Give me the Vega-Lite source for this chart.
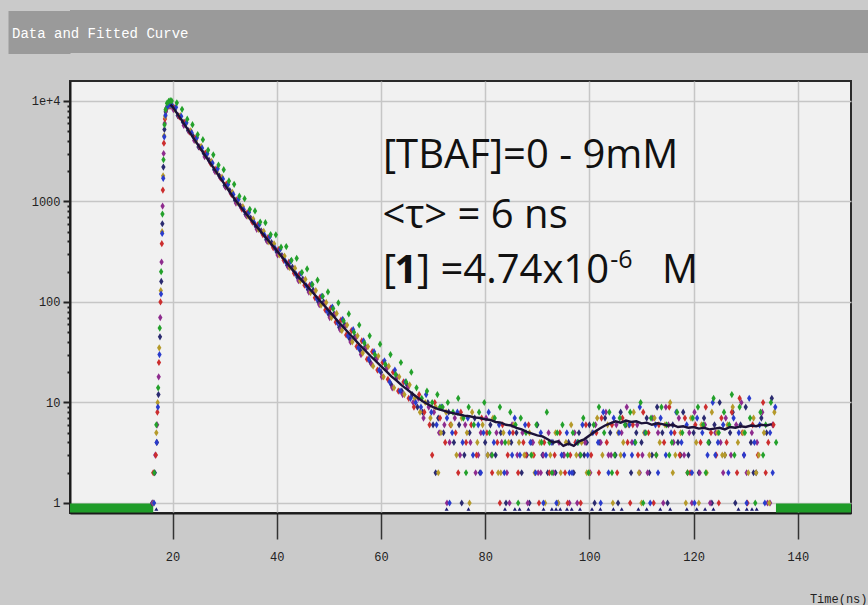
{
"$schema": "https://vega.github.io/schema/vega-lite/v6.json",
"background": "#cacaca",
"padding": {"top": 10, "left": -14, "right": 0, "bottom": 0},
"spacing": 26,
"config": {"view": {"stroke": null}},
"datasets": {
"N": [{"t":16.1,"c":1},{"t":16.6,"c":2},{"t":17,"c":4},{"t":17.3,"c":12},{"t":17.6,"c":45},{"t":17.85,"c":160},{"t":18.05,"c":600},{"t":18.25,"c":2200},{"t":18.45,"c":5200},{"t":18.7,"c":7800},{"t":19,"c":8800},{"t":19.3,"c":9100},{"t":19.6,"c":9200},
{"t":20,"c":8880},{"t":21,"c":7150},{"t":22,"c":6170},{"t":23,"c":5080},{"t":24,"c":4430},{"t":25,"c":3490},{"t":26,"c":3013},{"t":27,"c":2580},{"t":28,"c":2070},{"t":29,"c":1790},{"t":30,"c":1440},{"t":31,"c":1280},{"t":32,"c":1030},{"t":33,"c":905},{"t":34,"c":745},{"t":35,"c":685},{"t":36,"c":565},{"t":37,"c":510},{"t":38,"c":415},{"t":39,"c":390},{"t":40,"c":315},{"t":41,"c":290},{"t":42,"c":232},{"t":43,"c":222},{"t":44,"c":175},{"t":45,"c":169},{"t":46,"c":133},{"t":47,"c":131},{"t":48,"c":100},{"t":49,"c":100},{"t":50,"c":75},{"t":51,"c":76},{"t":52,"c":56},{"t":53,"c":60},{"t":54,"c":43},{"t":55,"c":45},{"t":56,"c":33},{"t":57,"c":36},{"t":58,"c":25},{"t":59,"c":28},{"t":60,"c":20},{"t":61,"c":23},{"t":62,"c":15},{"t":63,"c":18},{"t":64,"c":13},{"t":65,"c":15},
{"t":66,"c":12},{"t":67,"c":9},{"t":68,"c":8},{"t":69,"c":10},{"t":70,"c":6},{"t":71,"c":7},{"t":72,"c":5},{"t":73,"c":8},{"t":74,"c":4},{"t":75,"c":6},
{"t":76,"c":3},{"t":77,"c":5},{"t":78,"c":7},{"t":79,"c":2},{"t":80,"c":4},{"t":81,"c":6},{"t":82,"c":3},{"t":83,"c":5},{"t":84,"c":1},{"t":85,"c":4},
{"t":86,"c":5},{"t":87,"c":2},{"t":88,"c":3},{"t":89,"c":4},{"t":90,"c":6},{"t":91,"c":3},{"t":92,"c":2},{"t":93,"c":4},{"t":94,"c":1},{"t":95,"c":3},
{"t":96,"c":4},{"t":97,"c":2},{"t":98,"c":5},{"t":99,"c":3},{"t":100,"c":6},{"t":101,"c":1},{"t":102,"c":4},{"t":103,"c":7},{"t":104,"c":5},{"t":105,"c":3},
{"t":106,"c":8},{"t":107,"c":6},{"t":108,"c":2},{"t":109,"c":5},{"t":110,"c":4},{"t":111,"c":7},{"t":112,"c":3},{"t":113,"c":9},{"t":114,"c":5},{"t":115,"c":1},
{"t":116,"c":6},{"t":117,"c":4},{"t":118,"c":8},{"t":119,"c":3},{"t":120,"c":5},{"t":121,"c":2},{"t":122,"c":7},{"t":123,"c":4},{"t":124,"c":6},{"t":125,"c":10},
{"t":126,"c":3},{"t":127,"c":5},{"t":128,"c":1},{"t":129,"c":6},{"t":130,"c":9},{"t":131,"c":4},{"t":132,"c":2},{"t":133,"c":7},{"t":134,"c":5},{"t":135,"c":11},
{"t":70.5,"c":2},{"t":75.5,"c":1},{"t":80.5,"c":3},{"t":88.5,"c":1},{"t":93.5,"c":2},{"t":99.5,"c":4},{"t":105.5,"c":1},{"t":111.5,"c":2},{"t":117.5,"c":3},{"t":123.5,"c":1},{"t":127.5,"c":8},{"t":131.5,"c":2}],
"P": [{"t":16.2,"c":1},{"t":16.7,"c":3},{"t":17.05,"c":6},{"t":17.35,"c":18},{"t":17.65,"c":70},{"t":17.9,"c":250},{"t":18.1,"c":900},{"t":18.3,"c":3000},{"t":18.5,"c":6000},{"t":18.75,"c":8000},{"t":19.05,"c":8700},{"t":19.35,"c":8900},{"t":19.65,"c":8900},
{"t":20.17,"c":8220},{"t":21.17,"c":7090},{"t":22.17,"c":5710},{"t":23.17,"c":4980},{"t":24.17,"c":4050},{"t":25.17,"c":3500},{"t":26.17,"c":2790},{"t":27.17,"c":2480},{"t":28.17,"c":1975},{"t":29.17,"c":1725},{"t":30.17,"c":1390},{"t":31.17,"c":1210},{"t":32.17,"c":965},{"t":33.17,"c":873},{"t":34.17,"c":720},{"t":35.17,"c":655},{"t":36.17,"c":528},{"t":37.17,"c":495},{"t":38.17,"c":400},{"t":39.17,"c":368},{"t":40.17,"c":294},{"t":41.17,"c":281},{"t":42.17,"c":223},{"t":43.17,"c":209},{"t":44.17,"c":163},{"t":45.17,"c":164},{"t":46.17,"c":125},{"t":47.17,"c":125},{"t":48.17,"c":94},{"t":49.17,"c":96},{"t":50.17,"c":70},{"t":51.17,"c":75},{"t":52.17,"c":53},{"t":53.17,"c":57},{"t":54.17,"c":40},{"t":55.17,"c":44},{"t":56.17,"c":30},{"t":57.17,"c":35},{"t":58.17,"c":24},{"t":59.17,"c":27},{"t":60.17,"c":18},{"t":61.17,"c":22},{"t":62.17,"c":14},{"t":63.17,"c":18},{"t":64.17,"c":12},{"t":65.17,"c":14},
{"t":66.17,"c":10},{"t":67.17,"c":11},{"t":68.17,"c":7},{"t":69.17,"c":9},{"t":70.17,"c":8},{"t":71.17,"c":5},{"t":72.17,"c":6},{"t":73.17,"c":4},{"t":74.17,"c":7},{"t":75.17,"c":3},
{"t":76.17,"c":6},{"t":77.17,"c":4},{"t":78.17,"c":2},{"t":79.17,"c":5},{"t":80.17,"c":7},{"t":81.17,"c":3},{"t":82.17,"c":5},{"t":83.17,"c":4},{"t":84.17,"c":2},{"t":85.17,"c":6},
{"t":86.17,"c":3},{"t":87.17,"c":5},{"t":88.17,"c":1},{"t":89.17,"c":4},{"t":90.17,"c":2},{"t":91.17,"c":3},{"t":92.17,"c":5},{"t":93.17,"c":2},{"t":94.17,"c":4},{"t":95.17,"c":3},
{"t":96.17,"c":1},{"t":97.17,"c":5},{"t":98.17,"c":3},{"t":99.17,"c":4},{"t":100.17,"c":2},{"t":101.17,"c":6},{"t":102.17,"c":4},{"t":103.17,"c":8},{"t":104.17,"c":3},{"t":105.17,"c":6},
{"t":106.17,"c":5},{"t":107.17,"c":9},{"t":108.17,"c":4},{"t":109.17,"c":6},{"t":110.17,"c":3},{"t":111.17,"c":2},{"t":112.17,"c":7},{"t":113.17,"c":5},{"t":114.17,"c":1},{"t":115.17,"c":6},
{"t":116.17,"c":4},{"t":117.17,"c":7},{"t":118.17,"c":3},{"t":119.17,"c":5},{"t":120.17,"c":8},{"t":121.17,"c":2},{"t":122.17,"c":6},{"t":123.17,"c":1},{"t":124.17,"c":5},{"t":125.17,"c":4},
{"t":126.17,"c":7},{"t":127.17,"c":3},{"t":128.17,"c":6},{"t":129.17,"c":10},{"t":130.17,"c":2},{"t":131.17,"c":5},{"t":132.17,"c":4},{"t":133.17,"c":8},{"t":134.17,"c":1},{"t":135.17,"c":6},
{"t":72.67,"c":1},{"t":78.67,"c":3},{"t":84.67,"c":1},{"t":90.67,"c":2},{"t":97.67,"c":1},{"t":103.67,"c":3},{"t":109.67,"c":2},{"t":114.67,"c":9},{"t":119.67,"c":1},{"t":125.67,"c":2},{"t":129.67,"c":3},{"t":134.67,"c":1}],
"R": [{"t":16.3,"c":2},{"t":16.8,"c":3},{"t":17.1,"c":8},{"t":17.4,"c":25},{"t":17.7,"c":100},{"t":17.95,"c":380},{"t":18.15,"c":1300},{"t":18.35,"c":3800},{"t":18.55,"c":6600},{"t":18.8,"c":8300},{"t":19.1,"c":8900},{"t":19.4,"c":9000},{"t":19.7,"c":9000},
{"t":20.33,"c":8560},{"t":21.33,"c":6960},{"t":22.33,"c":6130},{"t":23.33,"c":4890},{"t":24.33,"c":4270},{"t":25.33,"c":3440},{"t":26.33,"c":3020},{"t":27.33,"c":2385},{"t":28.33,"c":2100},{"t":29.33,"c":1695},{"t":30.33,"c":1490},{"t":31.33,"c":1175},{"t":32.33,"c":1035},{"t":33.33,"c":840},{"t":34.33,"c":772},{"t":35.33,"c":623},{"t":36.33,"c":584},{"t":37.33,"c":467},{"t":38.33,"c":438},{"t":39.33,"c":347},{"t":40.33,"c":332},{"t":41.33,"c":260},{"t":42.33,"c":249},{"t":43.33,"c":193},{"t":44.33,"c":188},{"t":45.33,"c":147},{"t":46.33,"c":147},{"t":47.33,"c":110},{"t":48.33,"c":112},{"t":49.33,"c":83},{"t":50.33,"c":87},{"t":51.33,"c":63},{"t":52.33,"c":66},{"t":53.33,"c":47},{"t":54.33,"c":52},{"t":55.33,"c":36},{"t":56.33,"c":41},{"t":57.33,"c":27},{"t":58.33,"c":32},{"t":59.33,"c":21},{"t":60.33,"c":25},{"t":61.33,"c":17},{"t":62.33,"c":20},{"t":63.33,"c":13},{"t":64.33,"c":16},{"t":65.33,"c":11},
{"t":66.33,"c":9},{"t":67.33,"c":12},{"t":68.33,"c":8},{"t":69.33,"c":6},{"t":70.33,"c":10},{"t":71.33,"c":7},{"t":72.33,"c":4},{"t":73.33,"c":6},{"t":74.33,"c":5},{"t":75.33,"c":8},
{"t":76.33,"c":4},{"t":77.33,"c":6},{"t":78.33,"c":3},{"t":79.33,"c":7},{"t":80.33,"c":5},{"t":81.33,"c":2},{"t":82.33,"c":4},{"t":83.33,"c":6},{"t":84.33,"c":3},{"t":85.33,"c":5},
{"t":86.33,"c":2},{"t":87.33,"c":4},{"t":88.33,"c":6},{"t":89.33,"c":3},{"t":90.33,"c":1},{"t":91.33,"c":4},{"t":92.33,"c":2},{"t":93.33,"c":3},{"t":94.33,"c":5},{"t":95.33,"c":2},
{"t":96.33,"c":3},{"t":97.33,"c":4},{"t":98.33,"c":1},{"t":99.33,"c":6},{"t":100.33,"c":3},{"t":101.33,"c":5},{"t":102.33,"c":7},{"t":103.33,"c":4},{"t":104.33,"c":6},{"t":105.33,"c":2},
{"t":106.33,"c":7},{"t":107.33,"c":4},{"t":108.33,"c":6},{"t":109.33,"c":3},{"t":110.33,"c":8},{"t":111.33,"c":5},{"t":112.33,"c":1},{"t":113.33,"c":6},{"t":114.33,"c":4},{"t":115.33,"c":9},
{"t":116.33,"c":5},{"t":117.33,"c":3},{"t":118.33,"c":7},{"t":119.33,"c":2},{"t":120.33,"c":6},{"t":121.33,"c":4},{"t":122.33,"c":9},{"t":123.33,"c":5},{"t":124.33,"c":3},{"t":125.33,"c":7},
{"t":126.33,"c":4},{"t":127.33,"c":8},{"t":128.33,"c":2},{"t":129.33,"c":5},{"t":130.33,"c":1},{"t":131.33,"c":6},{"t":132.33,"c":3},{"t":133.33,"c":10},{"t":134.33,"c":4},{"t":135.33,"c":6},
{"t":69.83,"c":3},{"t":74.83,"c":2},{"t":82.83,"c":1},{"t":87.83,"c":3},{"t":95.83,"c":1},{"t":101.83,"c":2},{"t":107.83,"c":1},{"t":112.83,"c":3},{"t":118.83,"c":2},{"t":124.83,"c":1},{"t":128.83,"c":11},{"t":133.83,"c":2}],
"Y": [{"t":16.4,"c":1},{"t":16.9,"c":5},{"t":17.15,"c":10},{"t":17.45,"c":35},{"t":17.75,"c":130},{"t":18,"c":500},{"t":18.2,"c":1800},{"t":18.4,"c":4500},{"t":18.6,"c":7000},{"t":18.85,"c":8500},{"t":19.15,"c":9000},{"t":19.45,"c":9100},{"t":19.75,"c":9000},
{"t":20.5,"c":8220},{"t":21.5,"c":7170},{"t":22.5,"c":5830},{"t":23.5,"c":5040},{"t":24.5,"c":4020},{"t":25.5,"c":3540},{"t":26.5,"c":2845},{"t":27.5,"c":2505},{"t":28.5,"c":1975},{"t":29.5,"c":1745},{"t":30.5,"c":1390},{"t":31.5,"c":1235},{"t":32.5,"c":975},{"t":33.5,"c":890},{"t":34.5,"c":712},{"t":35.5,"c":668},{"t":36.5,"c":528},{"t":37.5,"c":505},{"t":38.5,"c":396},{"t":39.5,"c":379},{"t":40.5,"c":294},{"t":41.5,"c":286},{"t":42.5,"c":219},{"t":43.5,"c":217},{"t":44.5,"c":162},{"t":45.5,"c":168},{"t":46.5,"c":124},{"t":47.5,"c":130},{"t":48.5,"c":93},{"t":49.5,"c":99},{"t":50.5,"c":70},{"t":51.5,"c":77},{"t":52.5,"c":52},{"t":53.5,"c":59},{"t":54.5,"c":40},{"t":55.5,"c":46},{"t":56.5,"c":31},{"t":57.5,"c":36},{"t":58.5,"c":23},{"t":59.5,"c":29},{"t":60.5,"c":18},{"t":61.5,"c":23},{"t":62.5,"c":14},{"t":63.5,"c":18},{"t":64.5,"c":12},{"t":65.5,"c":15},
{"t":66.5,"c":11},{"t":67.5,"c":8},{"t":68.5,"c":10},{"t":69.5,"c":7},{"t":70.5,"c":9},{"t":71.5,"c":5},{"t":72.5,"c":8},{"t":73.5,"c":6},{"t":74.5,"c":3},{"t":75.5,"c":7},
{"t":76.5,"c":5},{"t":77.5,"c":8},{"t":78.5,"c":4},{"t":79.5,"c":6},{"t":80.5,"c":3},{"t":81.5,"c":7},{"t":82.5,"c":2},{"t":83.5,"c":5},{"t":84.5,"c":4},{"t":85.5,"c":6},
{"t":86.5,"c":4},{"t":87.5,"c":3},{"t":88.5,"c":5},{"t":89.5,"c":2},{"t":90.5,"c":4},{"t":91.5,"c":1},{"t":92.5,"c":3},{"t":93.5,"c":5},{"t":94.5,"c":2},{"t":95.5,"c":4},
{"t":96.5,"c":6},{"t":97.5,"c":3},{"t":98.5,"c":4},{"t":99.5,"c":2},{"t":100.5,"c":5},{"t":101.5,"c":7},{"t":102.5,"c":3},{"t":103.5,"c":6},{"t":104.5,"c":1},{"t":105.5,"c":5},
{"t":106.5,"c":4},{"t":107.5,"c":6},{"t":108.5,"c":8},{"t":109.5,"c":2},{"t":110.5,"c":5},{"t":111.5,"c":3},{"t":112.5,"c":7},{"t":113.5,"c":4},{"t":114.5,"c":6},{"t":115.5,"c":10},
{"t":116.5,"c":3},{"t":117.5,"c":5},{"t":118.5,"c":1},{"t":119.5,"c":7},{"t":120.5,"c":4},{"t":121.5,"c":6},{"t":122.5,"c":2},{"t":123.5,"c":8},{"t":124.5,"c":5},{"t":125.5,"c":3},
{"t":126.5,"c":6},{"t":127.5,"c":9},{"t":128.5,"c":4},{"t":129.5,"c":5},{"t":130.5,"c":2},{"t":131.5,"c":7},{"t":132.5,"c":3},{"t":133.5,"c":5},{"t":134.5,"c":1},{"t":135.5,"c":8},
{"t":71.0,"c":2},{"t":77.0,"c":1},{"t":83.0,"c":2},{"t":89.0,"c":3},{"t":94.0,"c":1},{"t":100.0,"c":2},{"t":106.0,"c":3},{"t":110.0,"c":1},{"t":116.0,"c":2},{"t":121.0,"c":1},{"t":126.0,"c":3},{"t":132.0,"c":2}],
"B": [{"t":16.45,"c":1},{"t":16.95,"c":4},{"t":17.2,"c":9},{"t":17.5,"c":30},{"t":17.8,"c":120},{"t":18.02,"c":480},{"t":18.22,"c":1700},{"t":18.42,"c":4400},{"t":18.65,"c":7200},{"t":18.9,"c":8600},{"t":19.2,"c":9100},{"t":19.5,"c":9200},{"t":19.8,"c":9100},
{"t":20.67,"c":8650},{"t":21.67,"c":7030},{"t":22.67,"c":6070},{"t":23.67,"c":4840},{"t":24.67,"c":4310},{"t":25.67,"c":3400},{"t":26.67,"c":2990},{"t":27.67,"c":2410},{"t":28.67,"c":2120},{"t":29.67,"c":1675},{"t":30.67,"c":1475},{"t":31.67,"c":1175},{"t":32.67,"c":1055},{"t":33.67,"c":830},{"t":34.67,"c":780},{"t":35.67,"c":617},{"t":36.67,"c":590},{"t":37.67,"c":462},{"t":38.67,"c":446},{"t":39.67,"c":343},{"t":40.67,"c":335},{"t":41.67,"c":254},{"t":42.67,"c":254},{"t":43.67,"c":190},{"t":44.67,"c":192},{"t":45.67,"c":145},{"t":46.67,"c":150},{"t":47.67,"c":108},{"t":48.67,"c":114},{"t":49.67,"c":81},{"t":50.67,"c":89},{"t":51.67,"c":62},{"t":52.67,"c":67},{"t":53.67,"c":46},{"t":54.67,"c":53},{"t":55.67,"c":35},{"t":56.67,"c":41},{"t":57.67,"c":27},{"t":58.67,"c":32},{"t":59.67,"c":21},{"t":60.67,"c":26},{"t":61.67,"c":16},{"t":62.67,"c":21},{"t":63.67,"c":13},{"t":64.67,"c":16},{"t":65.67,"c":11},
{"t":66.67,"c":10},{"t":67.67,"c":9},{"t":68.67,"c":12},{"t":69.67,"c":8},{"t":70.67,"c":6},{"t":71.67,"c":9},{"t":72.67,"c":7},{"t":73.67,"c":5},{"t":74.67,"c":8},{"t":75.67,"c":4},
{"t":76.67,"c":7},{"t":77.67,"c":3},{"t":78.67,"c":6},{"t":79.67,"c":5},{"t":80.67,"c":8},{"t":81.67,"c":4},{"t":82.67,"c":6},{"t":83.67,"c":2},{"t":84.67,"c":5},{"t":85.67,"c":7},
{"t":86.67,"c":3},{"t":87.67,"c":6},{"t":88.67,"c":4},{"t":89.67,"c":2},{"t":90.67,"c":5},{"t":91.67,"c":3},{"t":92.67,"c":4},{"t":93.67,"c":1},{"t":94.67,"c":3},{"t":95.67,"c":5},
{"t":96.67,"c":2},{"t":97.67,"c":4},{"t":98.67,"c":6},{"t":99.67,"c":3},{"t":100.67,"c":5},{"t":101.67,"c":4},{"t":102.67,"c":8},{"t":103.67,"c":2},{"t":104.67,"c":7},{"t":105.67,"c":5},
{"t":106.67,"c":3},{"t":107.67,"c":6},{"t":108.67,"c":4},{"t":109.67,"c":9},{"t":110.67,"c":5},{"t":111.67,"c":1},{"t":112.67,"c":6},{"t":113.67,"c":7},{"t":114.67,"c":3},{"t":115.67,"c":5},
{"t":116.67,"c":8},{"t":117.67,"c":4},{"t":118.67,"c":6},{"t":119.67,"c":2},{"t":120.67,"c":7},{"t":121.67,"c":5},{"t":122.67,"c":3},{"t":123.67,"c":10},{"t":124.67,"c":4},{"t":125.67,"c":6},
{"t":126.67,"c":2},{"t":127.67,"c":7},{"t":128.67,"c":5},{"t":129.67,"c":3},{"t":130.67,"c":11},{"t":131.67,"c":4},{"t":132.67,"c":6},{"t":133.67,"c":1},{"t":134.67,"c":5},{"t":135.67,"c":9},
{"t":73.17,"c":1},{"t":79.17,"c":2},{"t":85.17,"c":3},{"t":91.17,"c":1},{"t":96.17,"c":2},{"t":102.17,"c":1},{"t":108.17,"c":3},{"t":113.17,"c":2},{"t":120.17,"c":1},{"t":124.17,"c":3},{"t":130.17,"c":1},{"t":135.17,"c":2}],
"G": [{"t":16.5,"c":2},{"t":16.9,"c":6},{"t":17.25,"c":14},{"t":17.55,"c":55},{"t":17.82,"c":200},{"t":18.07,"c":750},{"t":18.27,"c":2600},{"t":18.47,"c":5800},{"t":18.68,"c":8200},{"t":18.95,"c":9500},{"t":19.25,"c":9900},{"t":19.55,"c":10100},{"t":19.85,"c":10000},
{"t":20.83,"c":9580},{"t":21.83,"c":8260},{"t":22.83,"c":6590},{"t":23.83,"c":5810},{"t":24.83,"c":4630},{"t":25.83,"c":4115},{"t":26.83,"c":3245},{"t":27.83,"c":2915},{"t":28.83,"c":2300},{"t":29.83,"c":2070},{"t":30.83,"c":1600},{"t":31.83,"c":1480},{"t":32.83,"c":1130},{"t":33.83,"c":1065},{"t":34.83,"c":835},{"t":35.83,"c":805},{"t":36.83,"c":625},{"t":37.83,"c":615},{"t":38.83,"c":468},{"t":39.83,"c":466},{"t":40.83,"c":351},{"t":41.83,"c":356},{"t":42.83,"c":260},{"t":43.83,"c":272},{"t":44.83,"c":197},{"t":45.83,"c":213},{"t":46.83,"c":149},{"t":47.83,"c":165},{"t":48.83,"c":114},{"t":49.83,"c":126},{"t":50.83,"c":86},{"t":51.83,"c":98},{"t":52.83,"c":65},{"t":53.83,"c":76},{"t":54.83,"c":50},{"t":55.83,"c":59},{"t":56.83,"c":39},{"t":57.83,"c":46},{"t":58.83,"c":30},{"t":59.83,"c":38},{"t":60.83,"c":24},{"t":61.83,"c":30},{"t":62.83,"c":19},{"t":63.83,"c":25},{"t":64.83,"c":16},{"t":65.83,"c":20},
{"t":66.83,"c":14},{"t":67.83,"c":11},{"t":68.83,"c":13},{"t":69.83,"c":10},{"t":70.83,"c":12},{"t":71.83,"c":9},{"t":72.83,"c":10},{"t":73.83,"c":8},{"t":74.83,"c":11},{"t":75.83,"c":7},
{"t":76.83,"c":9},{"t":77.83,"c":6},{"t":78.83,"c":8},{"t":79.83,"c":10},{"t":80.83,"c":5},{"t":81.83,"c":7},{"t":82.83,"c":9},{"t":83.83,"c":4},{"t":84.83,"c":8},{"t":85.83,"c":6},
{"t":86.83,"c":7},{"t":87.83,"c":5},{"t":88.83,"c":3},{"t":89.83,"c":6},{"t":90.83,"c":4},{"t":91.83,"c":8},{"t":92.83,"c":2},{"t":93.83,"c":5},{"t":94.83,"c":6},{"t":95.83,"c":3},
{"t":96.83,"c":5},{"t":97.83,"c":4},{"t":98.83,"c":7},{"t":99.83,"c":2},{"t":100.83,"c":6},{"t":101.83,"c":9},{"t":102.83,"c":5},{"t":103.83,"c":8},{"t":104.83,"c":3},{"t":105.83,"c":7},
{"t":106.83,"c":6},{"t":107.83,"c":8},{"t":108.83,"c":4},{"t":109.83,"c":10},{"t":110.83,"c":5},{"t":111.83,"c":7},{"t":112.83,"c":3},{"t":113.83,"c":9},{"t":114.83,"c":6},{"t":115.83,"c":4},
{"t":116.83,"c":8},{"t":117.83,"c":5},{"t":118.83,"c":2},{"t":119.83,"c":7},{"t":120.83,"c":9},{"t":121.83,"c":6},{"t":122.83,"c":4},{"t":123.83,"c":11},{"t":124.83,"c":5},{"t":125.83,"c":8},
{"t":126.83,"c":6},{"t":127.83,"c":3},{"t":128.83,"c":9},{"t":129.83,"c":5},{"t":130.83,"c":7},{"t":131.83,"c":1},{"t":132.83,"c":8},{"t":133.83,"c":6},{"t":134.83,"c":10},{"t":135.83,"c":4},
{"t":71.33,"c":9},{"t":76.33,"c":2},{"t":81.33,"c":3},{"t":86.33,"c":1},{"t":92.33,"c":4},{"t":98.33,"c":3},{"t":104.33,"c":2},{"t":110.33,"c":1},{"t":115.33,"c":3},{"t":122.33,"c":2},{"t":127.33,"c":12},{"t":133.33,"c":3}],
"fit": [{"t":19.6,"c":9200},{"t":20,"c":8800},{"t":22,"c":6150},{"t":24,"c":4300},{"t":26,"c":3000},{"t":28,"c":2110},{"t":30,"c":1480},{"t":32,"c":1040},{"t":34,"c":770},{"t":36,"c":575},{"t":38,"c":432},{"t":40,"c":325},{"t":42,"c":243},{"t":44,"c":182},{"t":46,"c":141},{"t":48,"c":107},{"t":50,"c":82},{"t":52,"c":62},{"t":54,"c":48},{"t":56,"c":37},{"t":58,"c":29},{"t":60,"c":23},{"t":61,"c":20.5},{"t":62,"c":18.2},{"t":63,"c":16.5},{"t":64,"c":14.8},{"t":65,"c":13.5},{"t":66,"c":12.3},{"t":67,"c":11.2},{"t":68,"c":10.3},{"t":69,"c":9.6},{"t":70,"c":9.0},{"t":71,"c":8.6},{"t":72,"c":8.3},{"t":73,"c":8.0},{"t":74,"c":7.8},{"t":75,"c":7.6},{"t":76,"c":7.4},{"t":77,"c":7.3},{"t":78,"c":7.1},{"t":79,"c":7.0},{"t":80,"c":6.8},{"t":81,"c":6.7},{"t":82,"c":6.4},{"t":83,"c":6.3},{"t":84,"c":6.0},{"t":85,"c":5.9},{"t":86,"c":5.6},{"t":87,"c":5.4},{"t":88,"c":5.1},{"t":89,"c":4.9},{"t":90,"c":4.7},{"t":91,"c":4.6},{"t":92,"c":4.3},{"t":93,"c":4.0},{"t":94,"c":4.1},{"t":95,"c":3.7},{"t":96,"c":3.9},{"t":97,"c":3.7},{"t":98,"c":4.1},{"t":99,"c":4.3},{"t":100,"c":4.7},{"t":101,"c":5.1},{"t":102,"c":5.5},{"t":103,"c":5.9},{"t":104,"c":6.2},{"t":105,"c":6.5},{"t":106,"c":6.3},{"t":107,"c":6.6},{"t":108,"c":6.4},{"t":109,"c":6.5},{"t":110,"c":6.2},{"t":111,"c":6.3},{"t":112,"c":6.0},{"t":113,"c":6.2},{"t":114,"c":6.1},{"t":115,"c":5.9},{"t":116,"c":6.0},{"t":117,"c":5.7},{"t":118,"c":5.8},{"t":119,"c":5.6},{"t":120,"c":5.7},{"t":121,"c":5.5},{"t":122,"c":5.6},{"t":123,"c":5.4},{"t":124,"c":5.5},{"t":125,"c":5.6},{"t":126,"c":5.4},{"t":127,"c":5.7},{"t":128,"c":5.6},{"t":129,"c":5.8},{"t":130,"c":5.7},{"t":131,"c":5.9},{"t":132,"c":5.8},{"t":133,"c":6.0},{"t":134,"c":5.9},{"t":135,"c":6.1}],
"zero": [{"t":16.9,"c":0.87},{"t":72.6,"c":0.87},{"t":76.8,"c":0.87},{"t":83.8,"c":0.87},{"t":85.7,"c":0.87},{"t":86.6,"c":0.87},{"t":88.3,"c":0.87},{"t":91.2,"c":0.87},{"t":92.8,"c":0.87},{"t":93.6,"c":0.87},{"t":94.4,"c":0.87},{"t":95.7,"c":0.87},{"t":96.6,"c":0.87},{"t":98.2,"c":0.87},{"t":100.5,"c":0.87},{"t":102.1,"c":0.87},{"t":104.6,"c":0.87},{"t":106.2,"c":0.87},{"t":109.4,"c":0.87},{"t":111.0,"c":0.87},{"t":113.6,"c":0.87},{"t":115.5,"c":0.87},{"t":118.7,"c":0.87},{"t":120.6,"c":0.87},{"t":122.2,"c":0.87},{"t":123.8,"c":0.87},{"t":128.6,"c":0.87},{"t":130.2,"c":0.87},{"t":131.2,"c":0.87},{"t":132.1,"c":0.87}],
"base": [{"seg":"L","t":0.33,"c":0.89},{"seg":"L","t":16.3,"c":0.89},{"seg":"R","t":135.8,"c":0.89},{"seg":"R","t":150.2,"c":0.89}],
"note": [{"t":60.4,"c":2154,"txt":"[TBAF]=0 - 9mM"},{"t":60.3,"c":545,"txt":"<τ> = 6 ns"},{"t":60.4,"c":154.5,"txt":"["},{"t":66.9,"c":154.5,"txt":"] =4.74x10"},{"t":113.95,"c":154.5,"txt":"M"}],
"bold": [{"t":62.6,"c":154.5,"txt":"1"}],
"sup": [{"t":104.0,"c":216,"txt":"-6"}]
},
"vconcat": [
{
"width": 798, "height": 43,
"view": {"fill": "#9a9a9a", "stroke": null},
"title": {"text": "Data and Fitted Curve", "anchor": "start", "frame": "group", "orient": "top", "offset": -42, "baseline": "alphabetic", "color": "#ffffff", "font": "Liberation Mono", "fontSize": 14, "fontWeight": "normal", "dx": -58},
"data": {"values": [{"v": 0.5}]},
"mark": {"type": "point", "opacity": 0},
"encoding": {"y": {"field": "v", "type": "quantitative", "scale": {"domain": [0, 1], "nice": false, "zero": false},
"axis": {"values": [0.5], "labels": false, "domain": false, "grid": false, "title": null, "tickSize": 62, "tickWidth": 43, "tickColor": "#9a9a9a", "tickCap": "butt", "tickBand": "center", "minExtent": 62, "maxExtent": 62}}}
},
{
"width": 781, "height": 432,
"view": {"fill": "#f1f1f1", "stroke": "#2a2a2a", "strokeWidth": 2},
"encoding": {
"x": {"field": "t", "type": "quantitative", "scale": {"domain": [0.33, 150.2], "nice": false, "zero": false},
"axis": {"values": [20,40,60,80,100,120,140], "tickSize": 26, "tickWidth": 1.5, "tickColor": "#333333", "domainColor": "#1a1a1a", "domainWidth": 2, "labelFont": "Liberation Mono", "labelFontSize": 12, "labelColor": "#222222", "labelPadding": 12, "labelFlush": false, "grid": true, "gridColor": "#c6c6c6", "gridWidth": 1.5, "title": "Time(ns)", "titleFont": "Liberation Mono", "titleFontSize": 12, "titleFontWeight": "normal", "titleColor": "#222222", "titleAlign": "right", "titleAnchor": "end", "titleX": 797, "titleY": 92, "titleBaseline": "bottom"}},
"y": {"field": "c", "type": "quantitative", "scale": {"type": "log", "domain": [0.795, 15800], "nice": false},
"axis": {"values": [1,2,3,4,5,6,7,8,9,10,20,30,40,50,60,70,80,90,100,200,300,400,500,600,700,800,900,1000,2000,3000,4000,5000,6000,7000,8000,9000,10000],
"labelExpr": "datum.value == 10000 ? '1e+4' : ((datum.value == 1 || datum.value == 10 || datum.value == 100 || datum.value == 1000) ? format(datum.value, 'd') : '')",
"labelOverlap": false, "labelFlush": false,
"tickSize": {"condition": {"test": "datum.value == 1 || datum.value == 10 || datum.value == 100 || datum.value == 1000 || datum.value == 10000", "value": 7}, "value": 3},
"tickWidth": 2, "tickColor": "#222222", "domainColor": "#1a1a1a", "domainWidth": 2,
"labelFont": "Liberation Mono", "labelFontSize": 12, "labelColor": "#222222", "labelPadding": 3,
"grid": true, "gridColor": "#c6c6c6", "gridWidth": 1.5,
"gridOpacity": {"condition": {"test": "datum.value == 1 || datum.value == 10 || datum.value == 100 || datum.value == 1000 || datum.value == 10000", "value": 1}, "value": 0},
"title": null, "minExtent": 62}}
},
"layer": [
{"data": {"name": "base"}, "mark": {"type": "line", "color": "#1f9c29", "strokeWidth": 9, "clip": true}, "encoding": {"detail": {"field": "seg"}}},
{"data": {"name": "zero"}, "mark": {"type": "point", "shape": "triangle-up", "filled": true, "size": 16, "color": "#1a1a70", "opacity": 1}},
{"data": {"name": "N"}, "mark": {"type": "point", "shape": "M0,-1L0.6,0L0,1L-0.6,0Z", "filled": true, "size": 52, "color": "#2b2b70", "opacity": 1}},
{"data": {"name": "P"}, "mark": {"type": "point", "shape": "M0,-1L0.6,0L0,1L-0.6,0Z", "filled": true, "size": 52, "color": "#8e2b8e", "opacity": 1}},
{"data": {"name": "R"}, "mark": {"type": "point", "shape": "M0,-1L0.6,0L0,1L-0.6,0Z", "filled": true, "size": 52, "color": "#cc2e2e", "opacity": 1}},
{"data": {"name": "Y"}, "mark": {"type": "point", "shape": "M0,-1L0.6,0L0,1L-0.6,0Z", "filled": true, "size": 52, "color": "#b59a2a", "opacity": 1}},
{"data": {"name": "B"}, "mark": {"type": "point", "shape": "M0,-1L0.6,0L0,1L-0.6,0Z", "filled": true, "size": 52, "color": "#2a3ccc", "opacity": 1}},
{"data": {"name": "G"}, "mark": {"type": "point", "shape": "M0,-1L0.6,0L0,1L-0.6,0Z", "filled": true, "size": 52, "color": "#23a12b", "opacity": 1}},
{"data": {"name": "fit"}, "mark": {"type": "line", "color": "#1c1238", "strokeWidth": 2.4}},
{"data": {"name": "note"}, "mark": {"type": "text", "align": "left", "baseline": "alphabetic", "font": "Open Sans", "fontSize": 40, "color": "#111111"}, "encoding": {"text": {"field": "txt"}}},
{"data": {"name": "bold"}, "mark": {"type": "text", "align": "left", "baseline": "alphabetic", "font": "Open Sans", "fontSize": 40, "fontWeight": "bold", "color": "#111111"}, "encoding": {"text": {"field": "txt"}}},
{"data": {"name": "sup"}, "mark": {"type": "text", "align": "left", "baseline": "alphabetic", "font": "Open Sans", "fontSize": 25, "color": "#111111"}, "encoding": {"text": {"field": "txt"}}}
]
}
]
}
